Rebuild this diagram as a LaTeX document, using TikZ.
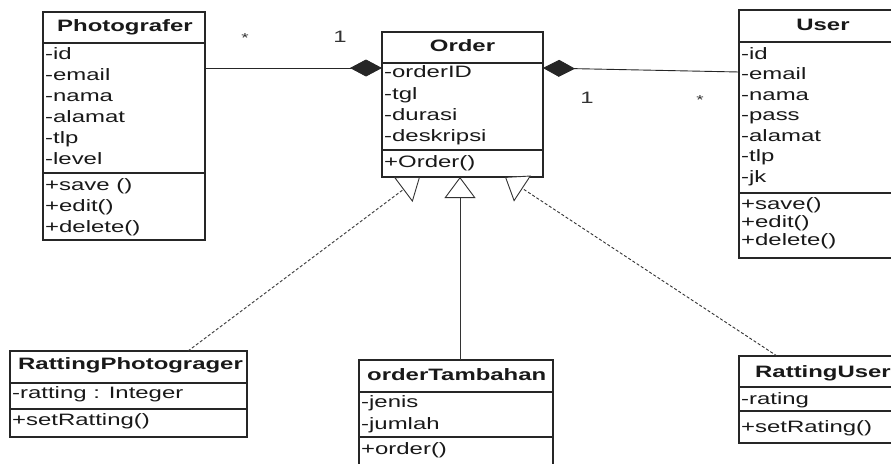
\documentclass[tikz,border=0pt]{standalone}
\usepackage{fontspec}
\setmainfont{Liberation Sans}[FakeStretch=1.45]
\usetikzlibrary{arrows.meta}
\newcommand\fs{\fontsize{16.5}{19}\selectfont}
\newcommand\fsm{\fontsize{13}{15}\selectfont}
\tikzset{
  classbox/.style={draw=black!85, line width=1.3pt, fill=white, inner sep=0pt, outer sep=0pt, anchor=north west},
  sepline/.style={draw=black!85, line width=1.3pt},
  attr/.style={anchor=west, inner sep=0pt, text height=12pt, text depth=3.5pt, font=\fs, text=black!90},
  ctitle/.style={anchor=center, inner sep=0pt, text height=12pt, text depth=3.5pt, font=\fs\bfseries, text=black!90},
  ltitle/.style={anchor=west, inner sep=0pt, text height=12pt, text depth=3.5pt, font=\fs\bfseries, text=black!90},
  mult/.style={inner sep=0pt, font=\fs, text=black!80},
  star/.style={inner sep=0pt, font=\fsm, text=black!80},
  comp/.style={line width=0.9pt, draw=black!85, -{Diamond[length=32pt,width=17pt]}},
  gen/.style={line width=0.9pt, draw=black!80, -{Triangle[open,length=21pt,width=31pt,fill=white]}},
  realize/.style={gen, dash pattern=on 3pt off 2pt}
}
\begin{document}
\begin{tikzpicture}[x=1pt,y=-1pt]
\useasboundingbox (0,0) rectangle (891,463);
\clip (0,0) rectangle (891,463);
\fill[white] (0,0) rectangle (891,463);

% ---------- Photografer ----------
\node[classbox, minimum width=162pt, minimum height=228pt] (ph) at (43,12) {};
\draw[sepline] (43,43) -- (205,43);
\draw[sepline] (43,173) -- (205,173);
\node[ctitle] (phT) at (125,27) {Photografer};
\node[attr] (ph1) at (45,55) {-id};
\node[attr] (ph2) at (45,76) {-email};
\node[attr] (ph3) at (45,97) {-nama};
\node[attr] (ph4) at (45,118) {-alamat};
\node[attr] (ph5) at (45,139) {-tlp};
\node[attr] (ph6) at (45,160) {-level};
\node[attr] (ph7) at (45,186) {+save ()};
\node[attr] (ph8) at (45,207) {+edit()};
\node[attr] (ph9) at (45,228) {+delete()};

% ---------- Order ----------
\node[classbox, minimum width=161pt, minimum height=145pt] (or) at (382,32) {};
\draw[sepline] (382,63) -- (543,63);
\draw[sepline] (382,150) -- (543,150);
\node[ctitle] (orT) at (462.5,47) {Order};
\node[attr] (or1) at (384,73) {-orderID};
\node[attr] (or2) at (384,95) {-tgl};
\node[attr] (or3) at (384,116) {-durasi};
\node[attr] (or4) at (384,137) {-deskripsi};
\node[attr] (or5) at (384,163) {+Order()};

% ---------- User ----------
\node[classbox, minimum width=166pt, minimum height=248pt] (us) at (739,10) {};
\draw[sepline] (739,42) -- (905,42);
\draw[sepline] (739,193) -- (905,193);
\node[ctitle] (usT) at (823,26) {User};
\node[attr] (us1) at (741,55) {-id};
\node[attr] (us2) at (741,75.5) {-email};
\node[attr] (us3) at (741,96) {-nama};
\node[attr] (us4) at (741,116.5) {-pass};
\node[attr] (us5) at (741,137) {-alamat};
\node[attr] (us6) at (741,157.5) {-tlp};
\node[attr] (us7) at (741,178) {-jk};
\node[attr] (us8) at (741,205) {+save()};
\node[attr] (us9) at (741,223) {+edit()};
\node[attr] (us10) at (741,241) {+delete()};

% ---------- RattingPhotograger ----------
\node[classbox, minimum width=237pt, minimum height=86pt] (rp) at (10,351) {};
\draw[sepline] (10,383) -- (247,383);
\draw[sepline] (10,409) -- (247,409);
\node[ltitle] (rpT) at (18,365) {RattingPhotograger};
\node[attr] (rp1) at (12,394) {-ratting : Integer};
\node[attr] (rp2) at (12,421) {+setRatting()};

% ---------- orderTambahan ----------
\node[classbox, minimum width=194pt, minimum height=110pt] (ot) at (359,360) {};
\draw[sepline] (359,392) -- (553,392);
\draw[sepline] (359,437) -- (553,437);
\node[ltitle] (otT) at (367,376) {orderTambahan};
\node[attr] (ot1) at (361,403) {-jenis};
\node[attr] (ot2) at (361,425) {-jumlah};
\node[attr] (ot3) at (361,450) {+order()};

% ---------- RattingUser ----------
\node[classbox, minimum width=166pt, minimum height=87pt] (ru) at (739,356) {};
\draw[sepline] (739,387) -- (905,387);
\draw[sepline] (739,411) -- (905,411);
\node[ltitle] (ruT) at (755,373) {RattingUser};
\node[attr] (ru1) at (741,400) {-rating};
\node[attr] (ru2) at (741,428) {+setRating()};

% ---------- compositions ----------
\draw[comp] ([yshift=58pt]ph.east) -- ([yshift=36.5pt]or.west);
\draw[comp] ([yshift=62pt]us.west) -- ([yshift=36.5pt]or.east);
\node[star] (m1) at (245,38) {*};
\node[mult] (m2) at (340,37) {1};
\node[mult] (m3) at (587,98) {1};
\node[star] (m4) at (700,100) {*};

% ---------- generalizations ----------
\draw[realize] ([xshift=59.5pt]rp.north) -- ([xshift=-42.5pt]or.south);
\draw[gen] ([xshift=4pt]ot.north) -- ([xshift=-2.5pt]or.south);
\draw[realize] ([xshift=-45pt]ru.north) -- ([xshift=42.5pt]or.south);
\end{tikzpicture}
\end{document}
